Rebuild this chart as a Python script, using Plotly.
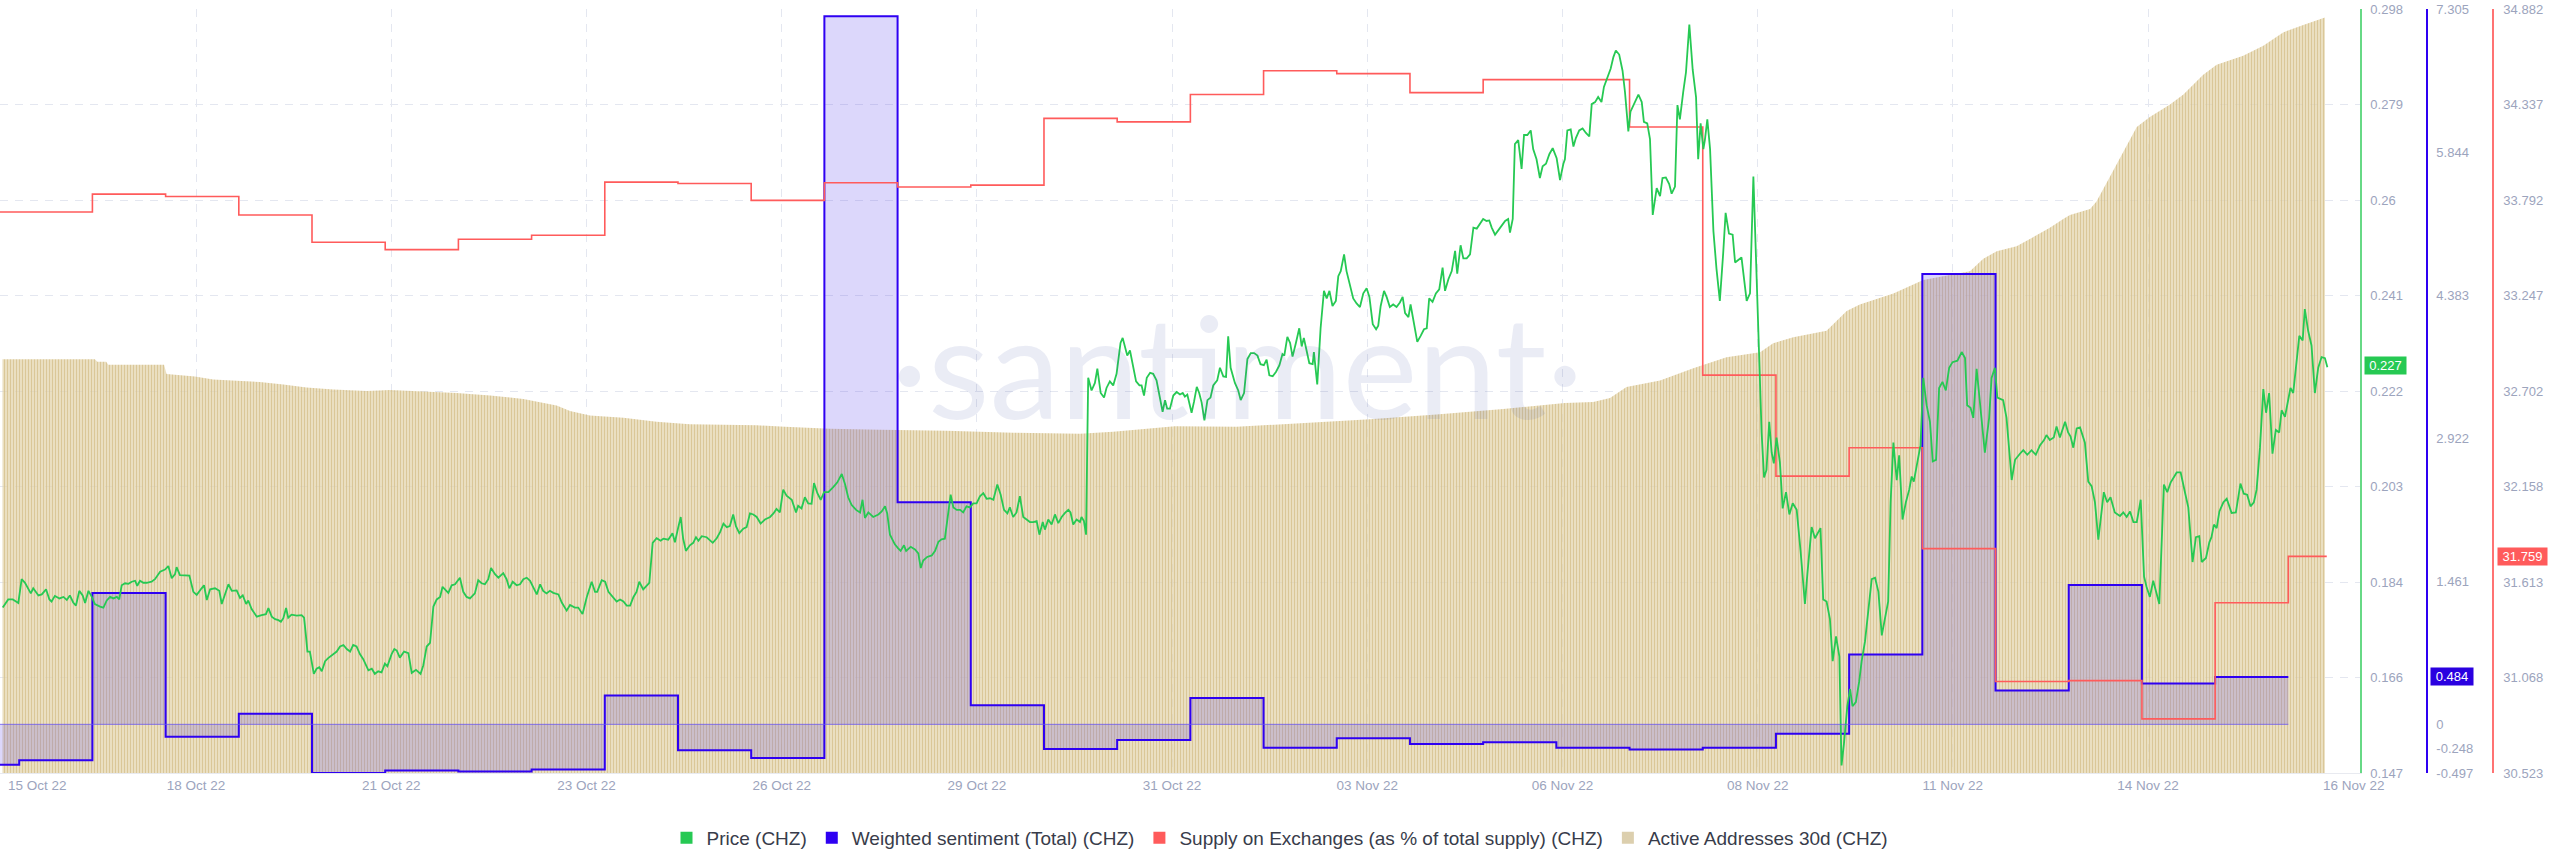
import numpy as np
import pandas as pd
import plotly.graph_objects as go

# ---------------- data ----------------
BASE = pd.Timestamp("2022-10-15 00:00")

x_tick_labels = ["15 Oct 22", "18 Oct 22", "21 Oct 22", "23 Oct 22", "26 Oct 22", "29 Oct 22",
                 "31 Oct 22", "03 Nov 22", "06 Nov 22", "08 Nov 22", "11 Nov 22", "14 Nov 22",
                 "16 Nov 22"]
x_tick_first_hour = 18      # hours after BASE of the first tick
x_tick_step_hours = 64      # tick spacing in hours
x_range_hours = [17.7, 791.5]

price_range = [0.147, 0.298]
price_tick_labels = ["0.147", "0.166", "0.184", "0.203", "0.222", "0.241", "0.26", "0.279", "0.298"]
sent_range = [-0.497, 7.305]
sent_tick_vals = [-0.497, -0.248, 0, 1.461, 2.922, 4.383, 5.844, 7.305]
sent_tick_labels = ["-0.497", "-0.248", "0", "1.461", "2.922", "4.383", "5.844", "7.305"]
supply_range = [30.523, 34.882]
supply_tick_labels = ["30.523", "31.068", "31.613", "32.158", "32.702", "33.247", "33.792",
                      "34.337", "34.882"]
aa_range = [0, 60000]

# daily series, 15 Oct 22 .. 16 Nov 22
day_start, day_end = "2022-10-15", "2022-11-16"
sentiment_values = [-0.412, -0.366, 1.341, -0.126, 0.108, -0.497, -0.471, -0.482, -0.462, 0.295,
                    -0.264, -0.345, 7.230, 2.267, 0.194, -0.253, -0.161, 0.270, -0.238, -0.141,
                    -0.202, -0.182, -0.238, -0.258, -0.238, -0.095, 0.712, 4.599, 0.346, 1.423,
                    0.418, 0.484, 0.484]
supply_values = [33.724, 33.724, 33.826, 33.812, 33.707, 33.551, 33.509, 33.568, 33.591, 33.894,
                 33.886, 33.790, 33.891, 33.866, 33.877, 34.258, 34.238, 34.394, 34.530, 34.513,
                 34.405, 34.479, 34.479, 34.209, 32.793, 32.217, 32.379, 31.803, 31.045, 31.050,
                 30.832, 31.494, 31.759]
supply_last_time = "2022-11-16 12:36"

# active addresses 30d (hidden axis), hours after BASE
aa_hours = [18.5, 48.8, 49.6, 52.5, 53.2, 71.5, 72.3, 81.6, 87.6, 102.9,
            110.6, 118.2, 127.0, 137.9, 145.6, 167.4, 178.4, 189.3, 200.2, 204.6,
            211.1, 222.1, 233.0, 243.9, 254.9, 265.8, 275.1, 289.8, 306.2, 328.1,
            349.9, 371.8, 382.7, 402.9, 423.2, 445.0, 466.9, 488.7, 510.6, 530.8,
            540.1, 545.6, 551.0, 562.0, 572.9, 583.8, 594.8, 599.1, 605.7, 616.6,
            623.2, 627.5, 638.5, 648.3, 658.7, 663.6, 668.0, 672.4, 678.9, 689.8,
            694.2, 696.4, 703.0, 705.1, 709.5, 713.9, 718.3, 722.6, 729.2, 733.6,
            740.1, 744.5, 753.2, 759.8, 766.3, 772.9, 780.0]
aa_values = [32499, 32499, 32303, 32303, 32069, 32069, 31327, 31132, 30897, 30701,
             30506, 30272, 30116, 29999, 30077, 29843, 29647, 29374, 28866, 28436,
             28085, 27890, 27577, 27382, 27343, 27304, 27187, 27030, 26952, 26874,
             26718, 26640, 26796, 27226, 27187, 27499, 27773, 28163, 28593, 29061,
             29140, 29452, 30311, 30819, 31796, 32655, 33046, 33749, 34218, 34725,
             36288, 36795, 37655, 38709, 39217, 39412, 40389, 40975, 41365, 42811,
             43514, 43826, 44295, 44881, 46834, 48787, 50740, 51521, 52497, 53279,
             54841, 55622, 56325, 57106, 58161, 58747, 59333]

# price, hours after BASE
price_hours = [
    18.6, 20.4, 21.9, 23.7, 24.8, 25.9, 27.8, 28.6, 30.3, 31.4, 32.8, 33.9, 34.6, 35.7, 37.2, 38.5,
    39.6, 40.6, 41.7, 42.6, 43.7, 44.8, 45.6, 46.7, 47.8, 48.8, 50.5, 51.6, 52.7, 53.8, 54.9, 56.0,
    56.8, 57.6, 58.7, 59.8, 60.9, 62.0, 62.7, 63.6, 64.7, 65.8, 67.4, 68.5, 70.2, 71.8, 72.9, 74.0,
    75.1, 75.6, 76.7, 78.4, 79.8, 81.1, 82.2, 83.8, 84.6, 85.5, 86.6, 88.2, 89.6, 90.4, 91.5, 92.6,
    93.7, 95.3, 96.4, 97.3, 98.4, 99.1, 100.2, 101.9, 103.5, 104.9, 105.7, 106.8, 107.9, 109.0,
    109.8, 110.6, 111.5, 112.2, 113.3, 115.0, 116.6, 117.4, 118.0, 118.5, 119.3, 120.6, 121.5,
    122.4, 123.2, 124.3, 125.3, 127.0, 128.1, 129.2, 130.3, 131.4, 132.5, 133.5, 134.6, 135.7,
    136.8, 138.5, 139.6, 140.6, 141.7, 142.8, 143.9, 144.7, 146.1, 147.0,
    147.8, 148.8, 150.2, 151.6, 152.7, 154.1, 155.6, 156.5, 157.6, 158.7,
    159.8, 160.9, 162.0, 162.8, 163.6, 164.7, 165.8, 166.9, 168.5, 169.6,
    170.7, 171.8, 173.4, 174.5, 175.6, 176.7, 177.8, 178.7, 180.0, 181.1,
    182.7, 183.8, 184.7, 185.8, 187.1, 188.2, 189.3, 190.4, 191.5, 192.6,
    193.7, 194.8, 195.8, 196.9, 198.0, 199.1, 200.8, 201.9, 203.5, 204.6,
    206.2, 207.3, 208.7, 210.1, 211.7, 212.8, 213.5, 215.0, 216.1, 217.2,
    218.2, 219.9, 221.0, 222.1, 223.2, 224.3, 225.4, 226.4, 227.3, 228.6,
    230.6, 231.7, 233.0, 234.3, 235.2, 236.8, 238.2, 239.0, 240.1, 240.9,
    241.7, 242.6, 243.9, 245.0, 245.9, 246.7, 247.8, 249.4, 251.4, 252.7,
    253.8, 254.9, 256.0, 257.0, 258.1, 259.0, 260.1, 261.4, 262.5, 263.6,
    264.7, 265.8, 267.1, 268.5, 270.2, 271.3, 272.3, 273.4, 274.5,
    275.6, 277.3, 278.7, 279.4, 280.5, 281.6, 282.7, 283.8, 284.6, 285.7,
    286.8, 287.9, 289.3, 290.9, 292.2, 293.7, 294.8, 295.8, 296.9, 298.4,
    299.7, 300.5, 301.3, 302.4, 304.0, 305.7, 306.8, 307.9, 308.6, 309.5,
    311.1, 312.2, 313.0, 314.1, 314.8, 316.3, 317.7, 318.8, 319.6, 320.4,
    321.7, 323.2, 324.3, 325.4, 326.4, 327.5, 328.6, 329.4, 330.3, 331.4,
    332.5, 333.5, 334.6, 335.7, 336.8, 337.9, 339.0, 340.1, 341.2, 342.3,
    343.4, 344.7, 345.8, 346.9, 348.0, 348.8, 349.9, 351.0, 352.1, 353.2,
    354.3, 355.4, 356.5, 357.6, 358.5, 359.6, 360.3, 361.4, 362.5, 363.6,
    364.7, 365.8, 366.9, 368.0, 368.7, 369.6, 370.7, 371.8, 372.3, 373.1,
    373.8, 374.5, 375.6, 376.7, 377.5, 378.6, 379.7, 380.5, 381.6, 382.7,
    383.8, 385.1, 385.8, 386.6, 387.3, 388.2, 389.1, 390.2, 391.3, 392.0,
    392.8, 393.7, 394.8, 395.8, 396.9, 397.8, 398.9, 399.7, 400.4, 401.3,
    402.4,
    403.5, 404.6, 405.5, 406.2, 407.0, 407.6, 408.4, 409.2, 410.1, 410.9,
    411.7, 412.6, 413.6, 414.6, 415.5, 416.8, 417.7, 418.8, 419.7, 420.4,
    421.2, 422.6, 423.7, 424.5, 425.6, 426.7, 427.8, 428.9, 430.0, 431.0,
    432.1, 433.0, 433.9, 435.0, 436.1, 437.2, 438.2, 438.8, 439.8, 440.7,
    441.5, 442.6, 443.7, 444.5, 445.2, 446.1, 447.0, 448.1, 448.5, 449.6,
    450.7, 451.8, 452.7, 453.6, 454.6, 455.7, 456.5, 457.3, 458.4, 459.2,
    460.3, 461.4, 462.5, 463.6, 464.7, 465.8, 466.7, 467.8, 468.9, 469.6,
    470.4, 471.5, 472.4, 473.4, 474.5, 475.6, 476.7, 477.6, 478.4, 479.5,
    480.2, 481.3, 482.4, 483.5, 484.6, 485.5, 486.3, 487.4, 488.5, 489.6,
    490.7, 491.5, 492.6, 493.7, 494.8, 495.5, 496.6, 497.5, 498.6, 499.7,
    500.8, 501.9, 503.2, 504.0, 505.1, 506.0, 506.8, 507.9, 509.0, 510.1,
    511.2, 512.2, 512.8, 513.7, 514.4, 515.5, 516.6, 517.4, 518.5, 519.6,
    520.4, 521.5, 522.6, 523.5, 524.6, 525.7, 526.8, 528.1, 529.2, 530.3,
    530.8, 531.6, 532.7, 533.6, 534.4, 535.5, 536.6, 537.7, 538.8, 539.6,
    540.7, 541.7, 542.8, 543.6, 544.7, 545.8, 546.7, 547.5, 548.6, 549.7,
    550.5, 551.6, 552.3, 553.8, 554.9, 556.0, 556.7, 557.8, 558.7, 559.6,
    560.9, 562.0, 562.8, 563.9, 565.0, 565.8, 566.9, 567.7, 568.5, 569.6,
    570.5, 571.6, 572.7, 573.8, 574.5, 575.3, 576.2, 576.7, 577.5, 578.4,
    579.5, 580.5, 581.6, 582.7, 583.5, 584.6, 585.8, 586.6, 587.7, 588.7,
    590.4, 591.5, 592.6, 593.7, 594.5, 595.3, 596.1, 596.9, 597.8, 598.6,
    599.3, 600.2, 601.3, 602.2, 603.3, 604.4, 605.5, 606.8, 608.1, 609.5,
    610.3, 611.7, 612.8, 614.2, 614.6, 615.5, 616.6, 617.7, 618.6, 619.7,
    620.8, 621.5, 622.3, 623.4, 624.3, 625.1, 626.2, 627.3, 628.1, 629.2,
    630.3, 631.4, 632.5, 633.6, 634.7, 635.7, 636.8, 637.6, 638.5, 639.6,
    640.4, 641.5, 642.6, 643.7, 644.5, 645.2, 646.3, 647.4, 648.3, 649.4,
    650.5, 651.4, 652.5, 653.5, 654.6, 655.7, 656.8, 657.9,
    659.5, 660.9, 662.0, 662.7, 663.8, 664.7, 665.8, 666.9, 668.5, 669.9,
    670.7, 671.8, 672.6, 674.5, 675.6, 677.3, 678.4, 680.0, 681.1, 682.4,
    683.8, 685.2, 686.6, 687.9, 688.7, 689.8, 691.1, 692.0, 693.1, 694.8,
    695.8, 696.6, 697.5, 698.6, 699.7, 701.3, 702.4, 703.5, 704.6, 705.7,
    706.8, 707.5, 708.6, 709.7, 711.1, 712.8, 713.9, 715.0, 716.1, 717.2,
    718.3, 719.6, 720.7, 721.5, 722.6, 723.7, 725.7, 727.2, 728.3, 729.4,
    731.4, 732.7, 734.1, 735.2, 736.6, 737.7, 738.8, 739.6, 741.0, 742.1,
    742.8, 743.6, 744.5, 745.4, 746.7, 747.8, 749.4, 750.8, 752.3, 753.4,
    754.5, 755.6, 756.7, 757.6, 758.7, 759.8, 760.7, 761.7, 762.8, 763.9,
    765.0, 765.8, 766.9, 768.0, 768.7, 769.6, 770.7, 771.6, 772.7, 773.4,
    774.5, 775.6, 776.7, 777.8, 778.9, 780.0, 780.8]
price_values = [
    0.1797, 0.1813, 0.1813, 0.1806, 0.1853, 0.1846, 0.1825, 0.1835, 0.1821, 0.1823,
    0.1833, 0.1813, 0.1809, 0.1820, 0.1815, 0.1818, 0.1812, 0.1821, 0.1807, 0.1801,
    0.1830, 0.1821, 0.1806, 0.1830, 0.1818, 0.1804, 0.1799, 0.1797, 0.1811, 0.1818,
    0.1815, 0.1818, 0.1813, 0.1841, 0.1845, 0.1844, 0.1848, 0.1850, 0.1840, 0.1850,
    0.1846, 0.1846, 0.1848, 0.1853, 0.1868, 0.1872, 0.1879, 0.1855, 0.1863, 0.1877,
    0.1861, 0.1860, 0.1860, 0.1828, 0.1822, 0.1835, 0.1841, 0.1812, 0.1833, 0.1835,
    0.1830, 0.1804, 0.1825, 0.1843, 0.1830, 0.1831, 0.1816, 0.1821, 0.1804, 0.1811,
    0.1794, 0.1779, 0.1782, 0.1784, 0.1796, 0.1779, 0.1774, 0.1772, 0.1769, 0.1776,
    0.1796, 0.1777, 0.1783, 0.1781, 0.1782, 0.1777, 0.1742, 0.1710, 0.1710, 0.1666,
    0.1676, 0.1679, 0.1671, 0.1691, 0.1697, 0.1705, 0.1710, 0.1720, 0.1723, 0.1715,
    0.1710, 0.1723, 0.1720, 0.1705, 0.1695, 0.1673, 0.1676, 0.1666, 0.1671, 0.1669,
    0.1686, 0.1681, 0.1705, 0.1715,
    0.1712, 0.1698, 0.1710, 0.1707, 0.1668, 0.1674, 0.1666, 0.1683, 0.1720, 0.1727,
    0.1799, 0.1813, 0.1818, 0.1838, 0.1833, 0.1826, 0.1841, 0.1843, 0.1856, 0.1828,
    0.1818, 0.1815, 0.1825, 0.1851, 0.1845, 0.1843, 0.1853, 0.1875, 0.1863, 0.1856,
    0.1865, 0.1853, 0.1835, 0.1848, 0.1841, 0.1843, 0.1853, 0.1856, 0.1850, 0.1838,
    0.1823, 0.1843, 0.1830, 0.1825, 0.1830, 0.1826, 0.1823, 0.1807, 0.1791, 0.1802,
    0.1797, 0.1797, 0.1784, 0.1818, 0.1848, 0.1828, 0.1828, 0.1851, 0.1848, 0.1828,
    0.1821, 0.1809, 0.1813, 0.1809, 0.1801, 0.1801, 0.1818, 0.1828, 0.1848, 0.1833,
    0.1846, 0.1925, 0.1934, 0.1929, 0.1933, 0.1931, 0.1944, 0.1926, 0.1956, 0.1976,
    0.1933, 0.1909, 0.1920, 0.1925, 0.1936, 0.1929, 0.1938, 0.1936, 0.1925, 0.1934,
    0.1946, 0.1963, 0.1956, 0.1958, 0.1981, 0.1958, 0.1944, 0.1953, 0.1956, 0.1983,
    0.1981, 0.1976, 0.1963, 0.1971, 0.1976, 0.1983, 0.1992, 0.1985, 0.2030,
    0.2018, 0.2010, 0.1985, 0.1998, 0.1993, 0.2015, 0.2003, 0.2002, 0.2043, 0.2023,
    0.2010, 0.2025, 0.2025, 0.2035, 0.2044, 0.2061, 0.2040, 0.2015, 0.2000, 0.1990,
    0.1985, 0.2010, 0.1974, 0.1985, 0.1976, 0.1981, 0.1987, 0.1997, 0.1983, 0.1941,
    0.1922, 0.1914, 0.1909, 0.1920, 0.1909, 0.1917, 0.1912, 0.1904, 0.1875, 0.1890,
    0.1897, 0.1900, 0.1909, 0.1927, 0.1932, 0.1933, 0.1985, 0.2020, 0.1995, 0.1990,
    0.1990, 0.1985, 0.1997, 0.1995, 0.2003, 0.2003, 0.2017, 0.2023, 0.2012, 0.2013,
    0.2010, 0.2040, 0.2020, 0.1990, 0.1983, 0.1995, 0.1976, 0.1985, 0.2017, 0.1976,
    0.1971, 0.1966, 0.1966, 0.1968, 0.1941, 0.1966, 0.1951, 0.1971, 0.1961, 0.1981,
    0.1964, 0.1976, 0.1984, 0.1990, 0.1985, 0.1961, 0.1971, 0.1966, 0.1976, 0.1968,
    0.1941, 0.2251, 0.2226, 0.2241, 0.2269, 0.2221, 0.2212, 0.2231, 0.2244, 0.2236,
    0.2259, 0.2320, 0.2330, 0.2310, 0.2295, 0.2305, 0.2280, 0.2244, 0.2236, 0.2236,
    0.2216, 0.2251, 0.2261, 0.2259, 0.2246, 0.2221, 0.2184, 0.2207, 0.2190, 0.2190,
    0.2216,
    0.2223, 0.2218, 0.2221, 0.2214, 0.2218, 0.2204, 0.2182, 0.2204, 0.2233, 0.2221,
    0.2202, 0.2167, 0.2207, 0.2212, 0.2236, 0.2246, 0.2271, 0.2254, 0.2253, 0.2333,
    0.2271, 0.2241, 0.2226, 0.2207, 0.2221, 0.2288, 0.2300, 0.2300, 0.2295, 0.2278,
    0.2276, 0.2287, 0.2256, 0.2254, 0.2263, 0.2276, 0.2298, 0.2295, 0.2332, 0.2320,
    0.2293, 0.2320, 0.2349, 0.2313, 0.2330, 0.2305, 0.2280, 0.2278, 0.2302, 0.2238,
    0.2349, 0.2423, 0.2408, 0.2423, 0.2393, 0.2403, 0.2452, 0.2462, 0.2495, 0.2462,
    0.2433, 0.2408, 0.2398, 0.2391, 0.2418, 0.2428, 0.2411, 0.2357, 0.2347, 0.2354,
    0.2393, 0.2423, 0.2410, 0.2391, 0.2396, 0.2391, 0.2400, 0.2411, 0.2379, 0.2371,
    0.2396, 0.2361, 0.2322, 0.2334, 0.2347, 0.2349, 0.2408, 0.2401, 0.2418, 0.2426,
    0.2469, 0.2423, 0.2446, 0.2462, 0.2502, 0.2457, 0.2513, 0.2487, 0.2487, 0.2495,
    0.2548, 0.2546, 0.2558, 0.2565, 0.2561, 0.2562, 0.2548, 0.2534, 0.2543, 0.2551,
    0.2561, 0.2565, 0.2538, 0.2565, 0.2713, 0.2721, 0.2664, 0.2731, 0.2731, 0.2740,
    0.2703, 0.2683, 0.2646, 0.2669, 0.2674, 0.2693, 0.2705, 0.2685, 0.2642, 0.2674,
    0.2683, 0.2740, 0.2742, 0.2708, 0.2725, 0.2740, 0.2744, 0.2735, 0.2728, 0.2792,
    0.2796, 0.2806, 0.2796, 0.2826, 0.2843, 0.2862, 0.2885, 0.2898, 0.2890, 0.2858,
    0.2816, 0.2738, 0.2777, 0.2796, 0.2811, 0.2796, 0.2757, 0.2754, 0.2723, 0.2573,
    0.2626, 0.2610, 0.2646, 0.2647, 0.2634, 0.2615, 0.2629, 0.2790, 0.2762, 0.2816,
    0.2855, 0.2949, 0.2860, 0.2806, 0.2683, 0.2754, 0.2703, 0.2721, 0.2762, 0.2703,
    0.2541, 0.2467, 0.2403, 0.2497, 0.2577, 0.2536, 0.2534, 0.2479, 0.2485, 0.2489,
    0.2403, 0.2418, 0.2649, 0.2428, 0.2266, 0.2143, 0.2054, 0.2069, 0.2164, 0.2103,
    0.2082, 0.2133, 0.2084, 0.1993, 0.2025, 0.1981, 0.2003, 0.1990, 0.1907, 0.1804,
    0.1863, 0.1956, 0.1934, 0.1948, 0.1954, 0.1813, 0.1809, 0.1774, 0.1691, 0.1740,
    0.1700, 0.1485, 0.1528, 0.1602, 0.1636, 0.1602, 0.1610, 0.1651, 0.1691, 0.1730,
    0.1791, 0.1853, 0.1856, 0.1828, 0.1742, 0.1774, 0.1809, 0.2005, 0.2123, 0.2049,
    0.2098, 0.1971, 0.2005, 0.2030, 0.2056, 0.2046, 0.2079, 0.2118, 0.2251, 0.2197,
    0.2164, 0.2086, 0.2089, 0.2231, 0.2243, 0.2226, 0.2271, 0.2282,
    0.2285, 0.2302, 0.2290, 0.2197, 0.2192, 0.2172, 0.2269, 0.2202, 0.2103, 0.2172,
    0.2251, 0.2271, 0.2212, 0.2207, 0.2172, 0.2049, 0.2089, 0.2101, 0.2108, 0.2099,
    0.2108, 0.2099, 0.2118, 0.2128, 0.2138, 0.2128, 0.2133, 0.2155, 0.2133, 0.2164,
    0.2143, 0.2135, 0.2113, 0.2151, 0.2153, 0.2123, 0.2046, 0.2037, 0.2005, 0.1931,
    0.1985, 0.2025, 0.2005, 0.2015, 0.1985, 0.1978, 0.1985, 0.1976, 0.1987, 0.1966,
    0.1966, 0.2010, 0.1858, 0.1838, 0.1818, 0.1850, 0.1804, 0.2040, 0.2025, 0.2044,
    0.2064, 0.2064, 0.2025, 0.1995, 0.1887, 0.1936, 0.1938, 0.1887, 0.1895, 0.1926,
    0.1936, 0.1961, 0.1954, 0.1987, 0.2005, 0.2012, 0.1984, 0.1985, 0.2042, 0.2022,
    0.2020, 0.1997, 0.2005, 0.2030, 0.2113, 0.2229, 0.2182, 0.2221, 0.2101, 0.2148,
    0.2143, 0.2187, 0.2174, 0.2212, 0.2231, 0.2221, 0.2290, 0.2334, 0.2325, 0.2387,
    0.2344, 0.2315, 0.2221, 0.2271, 0.2292, 0.2290, 0.2272]

assert len(price_hours) == len(price_values), (len(price_hours), len(price_values))
assert len(aa_hours) == len(aa_values)
days = pd.date_range(day_start, day_end, freq="D")
assert len(days) == len(sentiment_values) == len(supply_values)

# ---------------- styling ----------------
W, H = 2560, 867
GREEN = "#26c953"
BLUE = "#2e00f2"
RED = "#ff5b5b"
TAN = "#dccfae"
TICK = "#9ca4bd"
GRID = "#e4e7f0"
FONT = "Liberation Sans, Arial, sans-serif"
X_END = 2360 / W
POS_SENT = 2427 / W
POS_SUPPLY = 2493 / W

t_price = BASE + pd.to_timedelta(price_hours, unit="h")
t_aa = BASE + pd.to_timedelta(aa_hours, unit="h")
t_supply = list(days) + [pd.Timestamp(supply_last_time)]
y_supply = supply_values + [supply_values[-1]]

fig = go.Figure()

# Active addresses (striped area, hidden axis) -> main y axis (drawn first / bottom)
fig.add_trace(go.Scatter(
    x=t_aa, y=aa_values, yaxis="y", mode="lines", name="Active Addresses 30d (CHZ)",
    line=dict(width=0, color="rgba(0,0,0,0)"), fill="tozeroy",
    fillcolor="rgba(236,225,198,0.6)",
    fillpattern=dict(shape="|", size=3, solidity=0.62, fgcolor="rgba(214,193,140,0.85)",
                     bgcolor="rgba(236,225,198,0.55)", fillmode="replace"),
    showlegend=False, hoverinfo="skip"))

# Weighted sentiment
fig.add_trace(go.Scatter(
    x=days, y=sentiment_values, yaxis="y2", mode="lines", name="Weighted sentiment (Total) (CHZ)",
    line=dict(shape="hv", color=BLUE, width=2), fill="tozeroy",
    fillcolor="rgba(95,75,235,0.22)", showlegend=False))

# Supply on exchanges
fig.add_trace(go.Scatter(
    x=t_supply, y=y_supply, yaxis="y3", mode="lines",
    name="Supply on Exchanges (as % of total supply) (CHZ)",
    line=dict(shape="hv", color=RED, width=1.6), showlegend=False))

# Price
fig.add_trace(go.Scatter(
    x=t_price, y=price_values, yaxis="y4", mode="lines", name="Price (CHZ)",
    line=dict(color=GREEN, width=1.8), showlegend=False))

# legend entries (square swatches)
for nm, col in [("Price (CHZ)", GREEN), ("Weighted sentiment (Total) (CHZ)", BLUE),
                ("Supply on Exchanges (as % of total supply) (CHZ)", RED),
                ("Active Addresses 30d (CHZ)", TAN)]:
    fig.add_trace(go.Scatter(x=[None], y=[None], mode="markers", name=nm, yaxis="y4",
                             marker=dict(symbol="square", size=12, color=col)))

tick_times = [BASE + pd.Timedelta(hours=x_tick_first_hour + x_tick_step_hours * k)
              for k in range(len(x_tick_labels))]
x_range = [BASE + pd.Timedelta(hours=x_range_hours[0]), BASE + pd.Timedelta(hours=x_range_hours[1])]

axis_common = dict(zeroline=False, ticks="", fixedrange=True,
                   tickfont=dict(size=13, color=TICK, family=FONT))

fig.update_layout(
    width=W, height=H, margin=dict(l=0, r=0, t=9, b=94),
    paper_bgcolor="white", plot_bgcolor="white",
    font=dict(family=FONT),
    xaxis=dict(type="date", domain=[0, X_END], range=x_range,
               tickvals=tick_times[1:-1], ticktext=x_tick_labels[1:-1],
               showgrid=True, gridcolor=GRID, griddash="8px,7px", gridwidth=1,
               showline=True, linecolor="#e8eaf0", linewidth=1, zeroline=False, ticks="",
               tickfont=dict(size=13.5, color=TICK, family=FONT), automargin=False),
    yaxis=dict(range=aa_range, visible=False, fixedrange=True),
    yaxis2=dict(overlaying="y", side="right", anchor="free", position=POS_SENT,
                range=sent_range, tickvals=sent_tick_vals, ticktext=sent_tick_labels,
                showgrid=False, showline=True, linecolor=BLUE, linewidth=1.5,
                ticklabelstandoff=6, automargin=False, **axis_common),
    yaxis3=dict(overlaying="y", side="right", anchor="free", position=POS_SUPPLY,
                range=supply_range,
                tickvals=list(np.linspace(supply_range[0], supply_range[1], len(supply_tick_labels))),
                ticktext=supply_tick_labels, showgrid=False, showline=True,
                linecolor="rgba(255,91,91,0.85)", linewidth=1.5,
                ticklabelstandoff=7, automargin=False, **axis_common),
    yaxis4=dict(overlaying="y", side="right", anchor="x", range=price_range,
                tickvals=list(np.linspace(price_range[0], price_range[1], len(price_tick_labels))),
                ticktext=price_tick_labels, showgrid=True, gridcolor=GRID,
                griddash="8px,7px", gridwidth=1, showline=True,
                linecolor="rgba(38,201,83,0.7)", linewidth=1.5,
                ticklabelstandoff=6, automargin=False, **axis_common),
    legend=dict(orientation="h", x=0.5, xanchor="center", y=-0.085, yanchor="middle",
                font=dict(size=19, color="#383c4a", family=FONT), bgcolor="rgba(0,0,0,0)",
                itemwidth=30, traceorder="normal"),
)

annotations = [
    # watermark
    dict(text="·santiment·", xref="paper", yref="paper", x=1237 / W, y=0.535,
         xanchor="center", yanchor="middle", showarrow=False,
         font=dict(size=142, color="rgba(60,80,160,0.11)", family="Lato, sans-serif")),
    # edge date labels
    dict(text=x_tick_labels[0], xref="x", yref="paper", x=tick_times[0], y=0,
         xanchor="left", yanchor="top", xshift=5, yshift=-3, showarrow=False,
         font=dict(size=13.5, color=TICK, family=FONT)),
    dict(text=x_tick_labels[-1], xref="x", yref="paper", x=tick_times[-1], y=0,
         xanchor="center", yanchor="top", xshift=11, yshift=-3, showarrow=False,
         font=dict(size=13.5, color=TICK, family=FONT)),
    # last-value badges
    dict(text=f"{price_values[-1]:.3f}", xref="paper", yref="y4", x=X_END, y=price_values[-1],
         xanchor="left", yanchor="middle", xshift=4, yshift=2, showarrow=False, bgcolor=GREEN,
         width=41, height=17, borderpad=0, font=dict(size=13, color="white", family=FONT)),
    dict(text=f"{sentiment_values[-1]:.3f}", xref="paper", yref="y2", x=POS_SENT,
         y=sentiment_values[-1], xanchor="left", yanchor="middle", xshift=3, showarrow=False,
         bgcolor="#2a00e0", width=42, height=17, borderpad=0,
         font=dict(size=13, color="white", family=FONT)),
    dict(text=f"{supply_values[-1]:.3f}", xref="paper", yref="y3", x=POS_SUPPLY,
         y=supply_values[-1], xanchor="left", yanchor="middle", xshift=4, showarrow=False,
         bgcolor=RED, width=49, height=17, borderpad=0,
         font=dict(size=13, color="white", family=FONT)),
]
fig.update_layout(annotations=annotations)

# zero baseline of the sentiment area
fig.add_shape(type="line", xref="x", yref="y2", x0=days[0], x1=days[-1], y0=0, y1=0,
              line=dict(color="rgba(105,85,240,0.8)", width=1), layer="above")

fig.write_html("out.html")
